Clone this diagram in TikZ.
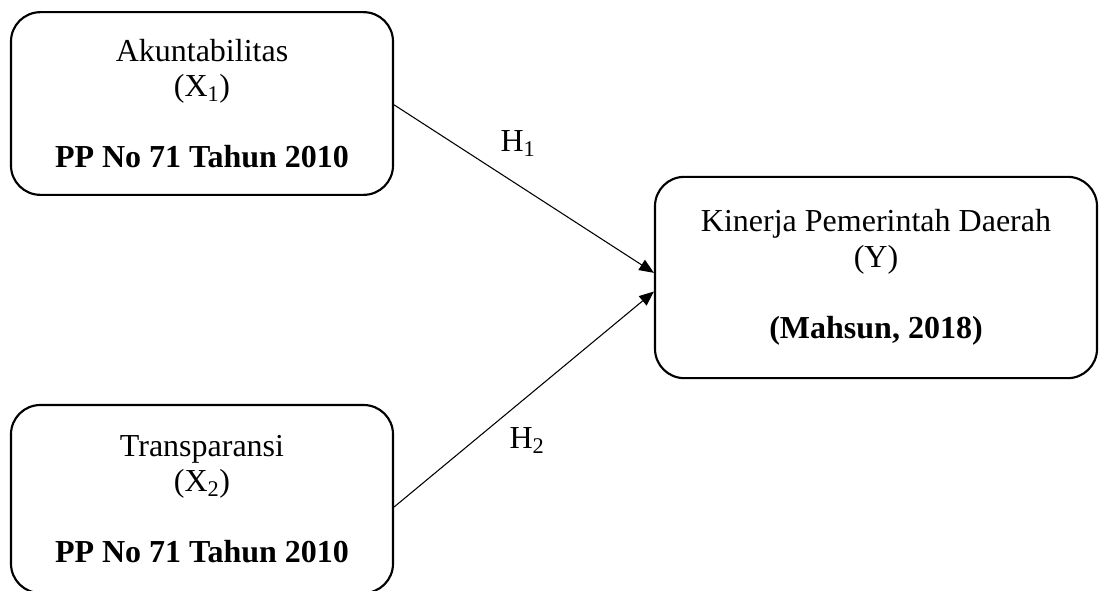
\documentclass[tikz,border=0pt]{standalone}
\usepackage{fontspec}
\setmainfont{Liberation Serif}
\usetikzlibrary{arrows.meta,positioning}

\begin{document}
\begin{tikzpicture}[x=0.75pt,y=-0.75pt,
  varbox/.style={draw=black, line width=1.6pt, rounded corners=22pt, align=center, inner sep=0pt,
    font=\fontsize{24}{26.5}\selectfont},
  hyplabel/.style={font=\fontsize{24}{26.5}\selectfont, inner sep=0pt},
  hyparrow/.style={-{Triangle[length=11pt,width=9pt]}, line width=0.8pt}]
\useasboundingbox (0,0) rectangle (1102,590);

\node[varbox, minimum width=286.5pt, minimum height=137pt] (x1) at (202,103.5)
  {Akuntabilitas\\(X\textsubscript{1})\\[27pt]\textbf{PP No 71 Tahun 2010}};
\node[varbox, minimum width=286.5pt, minimum height=141pt] (x2) at (202,499)
  {Transparansi\\(X\textsubscript{2})\\[27pt]\textbf{PP No 71 Tahun 2010}};
\node[varbox, minimum width=331.5pt, minimum height=151pt] (y) at (876,277.5)
  {Kinerja Pemerintah Daerah\\(Y)\\[27pt]\textbf{(Mahsun, 2018)}};

\draw[hyparrow] ([yshift=-1pt]x1.east) -- ([yshift=3.5pt]y.west);
\draw[hyparrow] ([yshift=-6pt]x2.east) -- ([yshift=-10.5pt]y.west);

\node[hyplabel] (h1) at (518,144) {H\textsubscript{1}};
\node[hyplabel] (h2) at (527,441) {H\textsubscript{2}};
\end{tikzpicture}
\end{document}
